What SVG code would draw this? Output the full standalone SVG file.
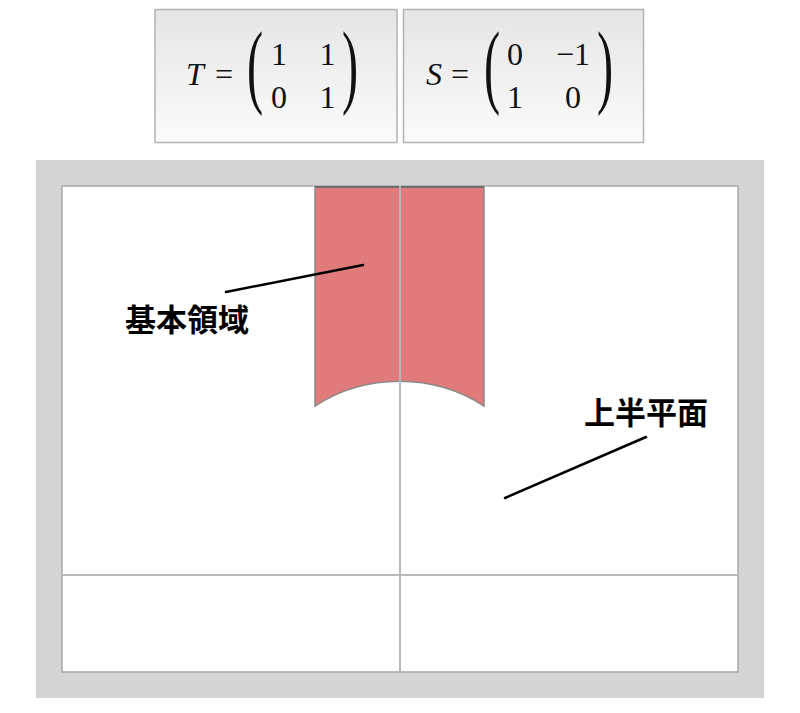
<svg xmlns="http://www.w3.org/2000/svg" width="800" height="713" viewBox="0 0 800 713">
  <defs>
    <linearGradient id="boxGrad" x1="0" y1="0" x2="0" y2="1">
      <stop offset="0" stop-color="#e5e5e5"/>
      <stop offset="1" stop-color="#fbfbfb"/>
    </linearGradient>
    <style>
      .box { fill: url(#boxGrad); stroke: #b3b3b3; stroke-width: 1.5; }
      .math { font-family: "Liberation Serif", "Times New Roman", serif; font-size: 32px; fill: #111; }
      .it { font-style: italic; }
      .paren { font-family: "Liberation Serif", "Times New Roman", serif; font-size: 93px; fill: #111; }
      .label { font-family: "Liberation Sans", "Noto Sans CJK JP", "Noto Sans CJK SC", sans-serif; font-size: 31px; font-weight: bold; fill: #000; }
      .axis { stroke: #b8b8b8; stroke-width: 2; fill: none; }
      .leader { stroke: #000; stroke-width: 2.5; fill: none; stroke-linecap: round; }
    </style>
  </defs>

  <rect width="800" height="713" fill="#ffffff"/>

  <g id="matrix-T">
    <rect class="box" x="155" y="9.5" width="242" height="133"/>
    <text class="math it" x="186" y="85">T</text>
    <text class="math" x="224" y="85" text-anchor="middle">=</text>
    <text class="paren" transform="translate(247,96) scale(0.52,1)">(</text>
    <text class="math" x="279" y="65" text-anchor="middle">1</text>
    <text class="math" x="327.5" y="65" text-anchor="middle">1</text>
    <text class="math" x="279" y="108" text-anchor="middle">0</text>
    <text class="math" x="327.5" y="108" text-anchor="middle">1</text>
    <text class="paren" transform="translate(342,96) scale(0.52,1)">)</text>
  </g>

  <g id="matrix-S">
    <rect class="box" x="403.5" y="9.5" width="240" height="133"/>
    <text class="math it" x="426" y="85">S</text>
    <text class="math" x="460" y="85" text-anchor="middle">=</text>
    <text class="paren" transform="translate(484,96) scale(0.52,1)">(</text>
    <text class="math" x="515" y="65" text-anchor="middle">0</text>
    <text class="math" x="573" y="65" text-anchor="middle">−1</text>
    <text class="math" x="515" y="108" text-anchor="middle">1</text>
    <text class="math" x="573" y="108" text-anchor="middle">0</text>
    <text class="paren" transform="translate(597,96) scale(0.52,1)">)</text>
  </g>

  <g id="plane">
    <rect x="36" y="160" width="728" height="538" fill="#d4d4d4"/>
    <rect x="62" y="186" width="676" height="486" fill="#ffffff" stroke="#a8a8a8" stroke-width="1.5"/>
  </g>

  <g id="fundamental-domain">
    <path d="M315,187 L484,187 L484,406 A157,157 0 0 0 315,406 Z" fill="#e07a7b" stroke="#8a8a8a" stroke-width="1.5"/>
    <line x1="315" y1="187" x2="484" y2="187" stroke="#6e6e6e" stroke-width="2"/>
  </g>

  <g id="axes">
    <line class="axis" x1="400" y1="186" x2="400" y2="672"/>
    <line class="axis" x1="62" y1="575" x2="738" y2="575"/>
  </g>

  <g id="label-fundamental">
    <text class="label" x="125" y="331">基本領域</text>
  </g>

  <g id="label-upper">
    <text class="label" x="584" y="424">上半平面</text>
  </g>

  <g id="connectors">
    <line class="leader" x1="226" y1="292" x2="363" y2="265"/>
    <line class="leader" x1="505" y1="498" x2="646" y2="437"/>
  </g>
</svg>
